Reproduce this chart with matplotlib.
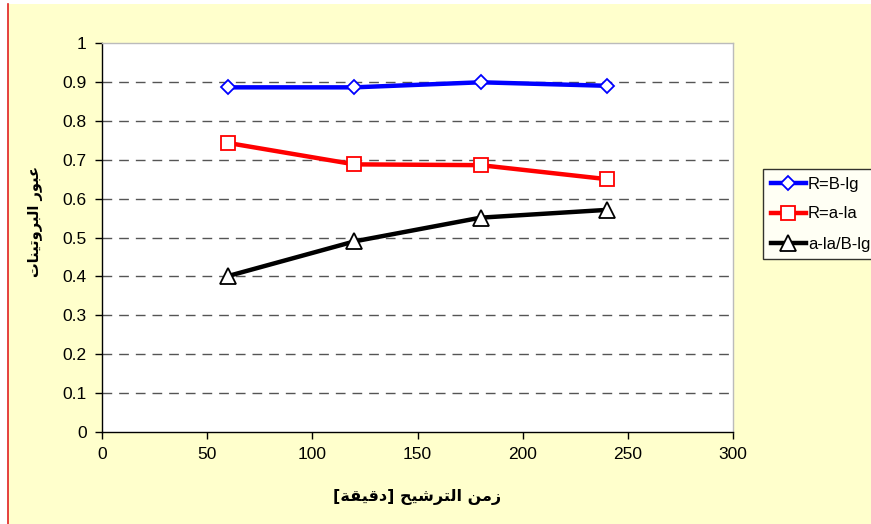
import numpy as np
import matplotlib.pyplot as plt
from matplotlib.patches import Rectangle
from matplotlib.lines import Line2D

# dados (tempo de filtração em minutos)
tempo = [60, 120, 180, 240]
r_b_lg = [0.886, 0.886, 0.899, 0.890]
r_a_la = [0.743, 0.688, 0.686, 0.650]
la_b_lg = [0.401, 0.490, 0.551, 0.571]

nomes_series = ['R=B-lg', 'R=a-la', 'a-la/B-lg']
x_ticks = [0, 50, 100, 150, 200, 250, 300]
y_ticks = [0, 0.1, 0.2, 0.3, 0.4, 0.5, 0.6, 0.7, 0.8, 0.9, 1]
rotulo_x = 'زمن الترشيح [دقيقة]'
rotulo_y = 'عبور البروتينات'

# formas de apresentação: isolada, final, inicial, medial
FORMAS = {
    'ا': ('\uFE8D', '\uFE8E', None, None),
    'ب': ('\uFE8F', '\uFE90', '\uFE91', '\uFE92'),
    'ة': ('\uFE93', '\uFE94', None, None),
    'ت': ('\uFE95', '\uFE96', '\uFE97', '\uFE98'),
    'ح': ('\uFEA1', '\uFEA2', '\uFEA3', '\uFEA4'),
    'د': ('\uFEA9', '\uFEAA', None, None),
    'ر': ('\uFEAD', '\uFEAE', None, None),
    'ز': ('\uFEAF', '\uFEB0', None, None),
    'ش': ('\uFEB5', '\uFEB6', '\uFEB7', '\uFEB8'),
    'ع': ('\uFEC9', '\uFECA', '\uFECB', '\uFECC'),
    'ق': ('\uFED5', '\uFED6', '\uFED7', '\uFED8'),
    'ل': ('\uFEDD', '\uFEDE', '\uFEDF', '\uFEE0'),
    'م': ('\uFEE1', '\uFEE2', '\uFEE3', '\uFEE4'),
    'ن': ('\uFEE5', '\uFEE6', '\uFEE7', '\uFEE8'),
    'و': ('\uFEED', '\uFEEE', None, None),
    'ي': ('\uFEF1', '\uFEF2', '\uFEF3', '\uFEF4'),
}


def moldar_arabe(texto):
    # o matplotlib não faz shaping nem RTL: escolhe a forma contextual
    # de cada letra e inverte a ordem para exibição
    saida = []
    for i, c in enumerate(texto):
        if c not in FORMAS:
            saida.append({'[': ']', ']': '['}.get(c, c))
            continue
        ant = texto[i - 1] if i > 0 else ''
        prox = texto[i + 1] if i + 1 < len(texto) else ''
        liga_ant = ant in FORMAS and FORMAS[ant][2] is not None
        liga_prox = FORMAS[c][2] is not None and prox in FORMAS
        if liga_ant and liga_prox:
            saida.append(FORMAS[c][3])
        elif liga_ant:
            saida.append(FORMAS[c][1])
        elif liga_prox:
            saida.append(FORMAS[c][2])
        else:
            saida.append(FORMAS[c][0])
    return ''.join(reversed(saida))


plt.rcParams['font.family'] = ['Liberation Sans', 'DejaVu Sans']

fig = plt.figure(figsize=(8.71, 5.24), dpi=100, facecolor='white')
# fundo amarelo da área do gráfico, com a borda vermelha à esquerda
fig.patches.append(Rectangle((8 / 871, 0), 1, 1 - 4 / 524, transform=fig.transFigure,
                             facecolor='#FFFFCC', edgecolor='none', zorder=-2))
fig.lines.append(Line2D([7.5 / 871, 7.5 / 871], [0, 1 - 4 / 524], transform=fig.transFigure,
                        color='#E02020', linewidth=1.2))

ax = fig.add_axes([102 / 871, 1 - 432 / 524, 631 / 871, 389 / 524])
ax.set_facecolor('white')

ax.plot(tempo, r_b_lg, color='#0000FF', linewidth=3.2, marker='D', markersize=7.5,
        markerfacecolor='white', markeredgecolor='#0000FF', markeredgewidth=1.3,
        label=nomes_series[0], zorder=3)
ax.plot(tempo, r_a_la, color='#FF0000', linewidth=3.2, marker='s', markersize=10.5,
        markerfacecolor='white', markeredgecolor='#FF0000', markeredgewidth=1.3,
        label=nomes_series[1], zorder=3)
ax.plot(tempo, la_b_lg, color='black', linewidth=3.2, marker='^', markersize=11,
        markerfacecolor='white', markeredgecolor='black', markeredgewidth=1.3,
        label=nomes_series[2], zorder=3)

ax.set_xlim(0, 300)
ax.set_ylim(0, 1)
ax.set_xticks(x_ticks)
ax.set_yticks(y_ticks)
ax.set_yticklabels(['0' if v == 0 else ('1' if v == 1 else f'{v:g}') for v in y_ticks])
ax.tick_params(direction='out', length=5, width=1, labelsize=12.5, colors='black', pad=6)

for v in y_ticks[1:-1]:
    ax.axhline(v, color='#555555', linewidth=1, linestyle=(0, (7, 5)), zorder=1)

for lado in ['left', 'bottom']:
    ax.spines[lado].set_color('black')
    ax.spines[lado].set_linewidth(1)
for lado in ['top', 'right']:
    ax.spines[lado].set_color('#BBBBBB')
    ax.spines[lado].set_linewidth(1)

ax.set_xlabel(moldar_arabe(rotulo_x), fontsize=11.5, fontweight='bold',
              family=['DejaVu Sans'], labelpad=19)
ax.set_ylabel(moldar_arabe(rotulo_y), fontsize=10.5, fontweight='bold',
              family=['DejaVu Sans'])
ax.yaxis.set_label_coords(-0.094, 0.54)

leg = fig.legend(loc='upper left', bbox_to_anchor=(763 / 871, 1 - 169 / 524),
                 fontsize=12, frameon=True, fancybox=False, edgecolor='black',
                 handlelength=2.15, handletextpad=0.1, labelspacing=0.9,
                 borderpad=0.45, borderaxespad=0)
leg.get_frame().set_linewidth(1)

fig.savefig('out.png', dpi=100, facecolor=fig.get_facecolor())
